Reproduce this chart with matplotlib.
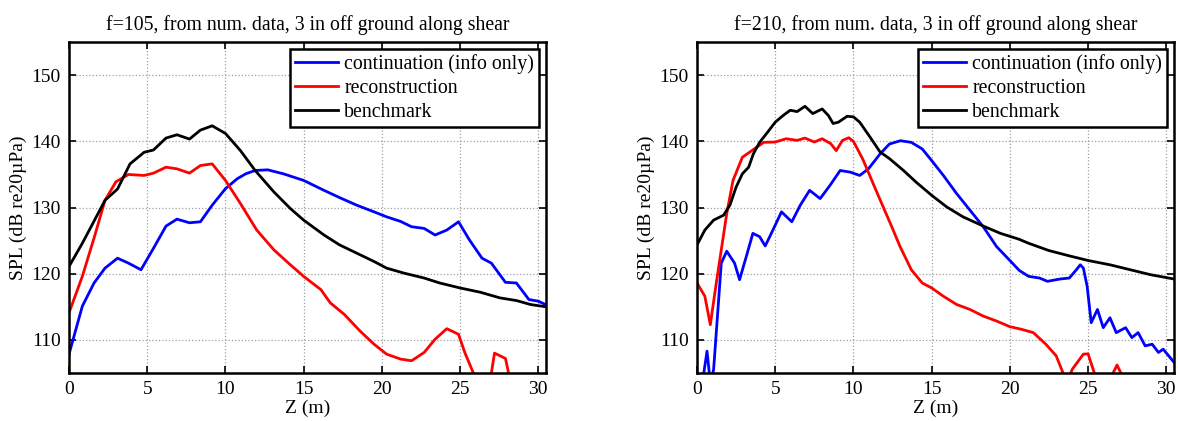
import matplotlib
matplotlib.use("Agg")
import matplotlib.pyplot as plt

# ---- f=105 panel ----
z105_bench = [0, 0.85, 1.7, 2.3, 3.1, 3.9, 4.8, 5.4, 6.2, 6.9, 7.7, 8.4, 9.15, 10.0, 10.96,
              11.9, 13.1, 14.15, 15.0, 16.3, 17.3, 18.4, 19.5, 20.3, 21.4, 22.7, 23.7, 25.0,
              26.3, 27.55, 28.6, 29.5, 30.5]
spl105_bench = [121.1, 124.6, 128.4, 131.1, 132.8, 136.6, 138.35, 138.7, 140.5, 141.0, 140.35,
                141.7, 142.35, 141.2, 138.6, 135.6, 132.35, 129.85, 128.1, 125.85, 124.35,
                123.1, 121.85, 120.85, 120.1, 119.35, 118.6, 117.85, 117.2, 116.35, 115.95,
                115.35, 115.0]

z105_recon = [0, 0.85, 1.6, 2.3, 3.0, 3.8, 4.8, 5.4, 6.2, 6.9, 7.7, 8.4, 9.15, 10.0, 10.96,
              12.0, 13.1, 14.15, 15.0, 16.1, 16.7, 17.6, 18.6, 19.5, 20.3, 21.2, 21.9, 22.7,
              23.4, 24.15, 24.9, 25.3, 25.85, 26.4, 27.0, 27.2, 27.9, 28.1, 28.6, 30.5]
spl105_recon = [114.1, 119.6, 125.4, 131.1, 133.9, 135.0, 134.85, 135.2, 136.1, 135.85, 135.2,
                136.35, 136.6, 134.1, 130.6, 126.6, 123.6, 121.35, 119.6, 117.6, 115.6, 113.85,
                111.35, 109.35, 107.85, 107.1, 106.85, 108.1, 110.1, 111.7, 110.85, 108.1,
                105.0, 101.5, 105.0, 108.0, 107.2, 105.0, 101.0, 100.0]

z105_cont = [0, 0.85, 1.6, 2.3, 3.1, 3.8, 4.6, 5.4, 6.2, 6.9, 7.7, 8.4, 9.15, 10.0, 10.75,
             11.3, 11.9, 12.7, 13.7, 15.0, 16.3, 17.3, 18.4, 19.5, 20.3, 21.2, 21.9, 22.7,
             23.4, 24.15, 24.9, 25.6, 26.4, 27.0, 27.9, 28.6, 29.4, 30.0, 30.5]
spl105_cont = [107.85, 115.1, 118.6, 120.85, 122.35, 121.6, 120.6, 123.85, 127.2, 128.25,
               127.7, 127.85, 130.35, 132.85, 134.35, 135.1, 135.6, 135.7, 135.1, 134.1, 132.6,
               131.5, 130.35, 129.35, 128.6, 127.9, 127.1, 126.85, 125.85, 126.6, 127.85,
               125.1, 122.35, 121.6, 118.7, 118.6, 116.1, 115.85, 115.3]

# ---- f=210 panel ----
z210_bench = [0, 0.5, 1.06, 1.7, 2.1, 2.5, 2.9, 3.3, 3.6, 4.0, 4.5, 5.0, 5.5, 5.96, 6.4, 6.9,
              7.4, 8.0, 8.4, 8.7, 9.04, 9.6, 10.0, 10.4, 11.06, 11.7, 12.3, 13.2, 14.0, 15.0,
              15.96, 17.0, 18.3, 19.4, 20.6, 21.2, 22.5, 23.8, 25.0, 26.4, 27.7, 29.0, 30.5]
spl210_bench = [124.35, 126.6, 128.1, 128.85, 130.35, 133.1, 135.1, 136.1, 138.1, 139.85,
                141.35, 142.9, 143.9, 144.7, 144.5, 145.3, 144.2, 144.9, 143.9, 142.7, 142.9,
                143.8, 143.7, 142.9, 140.65, 138.4, 137.4, 135.6, 133.85, 131.85, 130.1, 128.6,
                127.2, 126.1, 125.2, 124.6, 123.5, 122.7, 122.0, 121.35, 120.6, 119.85, 119.2]

z210_recon = [0, 0.5, 0.85, 1.2, 1.55, 1.9, 2.3, 2.9, 3.5, 4.26, 5.0, 5.7, 6.4, 6.9, 7.5, 8.0,
              8.55, 8.9, 9.3, 9.7, 10.0, 10.6, 11.3, 11.9, 12.45, 12.98, 13.7, 14.4, 15.0,
              15.75, 16.6, 17.45, 18.3, 19.15, 20.0, 20.75, 21.5, 22.3, 22.96, 23.4, 23.7,
              24.0, 24.7, 25.0, 25.4, 25.9, 26.6, 26.85, 27.1, 27.6, 30.5]
spl210_recon = [118.6, 116.6, 112.3, 118.1, 123.6, 129.1, 134.1, 137.6, 138.6, 139.85, 139.9,
                140.4, 140.15, 140.5, 139.9, 140.4, 139.65, 138.6, 140.15, 140.55, 140.0, 137.3,
                133.4, 130.1, 127.1, 124.1, 120.6, 118.6, 117.85, 116.6, 115.35, 114.6, 113.6,
                112.85, 112.0, 111.6, 111.1, 109.35, 107.6, 105.0, 104.0, 105.6, 107.85, 107.9,
                105.0, 103.5, 105.0, 106.2, 105.0, 103.0, 101.0]

z210_cont = [0, 0.4, 0.64, 0.85, 1.06, 1.55, 1.9, 2.4, 2.72, 3.15, 3.57, 4.0, 4.36, 4.7, 5.4,
             6.06, 6.6, 7.2, 7.87, 8.5, 9.15, 9.8, 10.4, 10.96, 11.7, 12.3, 13.0, 13.7, 14.4,
             15.0, 15.75, 16.6, 17.45, 18.3, 19.15, 19.96, 20.6, 21.2, 21.9, 22.4, 23.2, 23.8,
             24.25, 24.5, 24.7, 24.94, 25.2, 25.6, 25.97, 26.4, 26.8, 27.4, 27.8, 28.2, 28.65,
             29.1, 29.5, 29.8, 30.5]
spl210_cont = [103.0, 104.5, 108.3, 103.5, 105.5, 121.6, 123.4, 121.6, 119.1, 122.6, 126.1,
               125.6, 124.2, 125.85, 129.35, 127.85, 130.35, 132.6, 131.35, 133.35, 135.6,
               135.35, 134.85, 135.85, 138.1, 139.6, 140.1, 139.85, 138.85, 137.1, 134.85,
               132.1, 129.6, 127.1, 124.1, 122.1, 120.5, 119.6, 119.35, 118.85, 119.2, 119.35,
               120.6, 121.35, 120.85, 118.1, 112.6, 114.6, 111.85, 113.35, 111.1, 111.85,
               110.35, 111.1, 109.1, 109.35, 108.1, 108.6, 106.6]

labels = ['continuation (info only)', 'reconstruction', 'benchmark']
titles = ['f=105, from num. data, 3 in off ground along shear',
          'f=210, from num. data, 3 in off ground along shear']

plt.rcParams['font.family'] = ['Liberation Serif', 'DejaVu Serif']

fig = plt.figure(figsize=(11.78, 4.21), dpi=100)
ax1 = fig.add_axes([0.0586, 0.114, 0.405, 0.786])
ax2 = fig.add_axes([0.5917, 0.114, 0.405, 0.786])

panels = [
    (ax1, titles[0], (z105_cont, spl105_cont), (z105_recon, spl105_recon), (z105_bench, spl105_bench)),
    (ax2, titles[1], (z210_cont, spl210_cont), (z210_recon, spl210_recon), (z210_bench, spl210_bench)),
]

for ax, title, cont, recon, bench in panels:
    ax.plot(cont[0], cont[1], color='#0000ff', linewidth=2, label=labels[0])
    ax.plot(recon[0], recon[1], color='#ff0000', linewidth=2, label=labels[1])
    ax.plot(bench[0], bench[1], color='black', linewidth=2, label=labels[2])
    ax.set_xlim(0, 30.5)
    ax.set_ylim(105, 155)
    ax.set_xticks([0, 5, 10, 15, 20, 25, 30])
    ax.set_yticks([110, 120, 130, 140, 150])
    ax.grid(True, linestyle=':', color='#a0a0a0', linewidth=0.9)
    ax.tick_params(direction='in', top=True, right=True, length=5, width=1.2,
                   labelsize=14, pad=6)
    for sp in ax.spines.values():
        sp.set_linewidth(1.8)
    ax.set_title(title, fontsize=14.2, pad=9)
    ax.set_xlabel('Z (m)', fontsize=14, labelpad=1)
    ax.set_ylabel('SPL (dB re20\u00b5Pa)', fontsize=14, labelpad=3)
    leg = ax.legend(loc='upper right', fontsize=14.3, fancybox=False, framealpha=1,
                    edgecolor='black', borderaxespad=0.35, handlelength=2.2,
                    handletextpad=0.3, labelspacing=0.25, borderpad=0.25)
    leg.get_frame().set_linewidth(1.8)

fig.savefig('out.png', dpi=100)
